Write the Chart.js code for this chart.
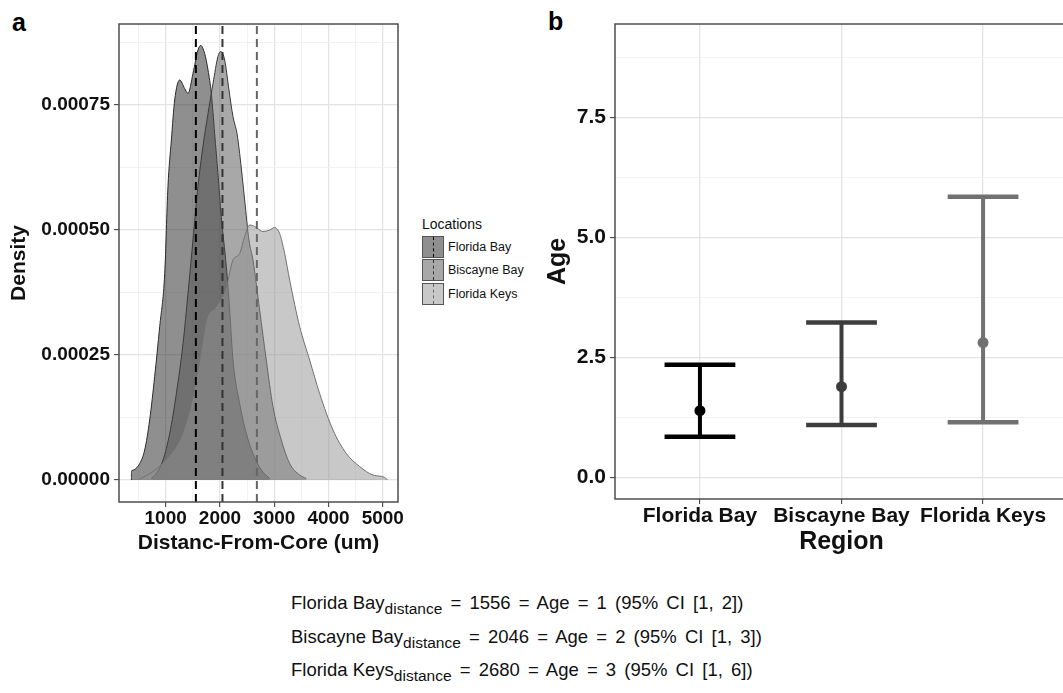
<!DOCTYPE html>
<html>
<head>
<meta charset="utf-8">
<script src="https://cdn.jsdelivr.net/npm/chart.js@4"></script>
<style>
  html, body { margin: 0; padding: 0; background: #fff; overflow: hidden; }
  body { width: 1063px; height: 693px; position: relative; font-family: "Liberation Sans", Arial, sans-serif; }
  canvas { position: absolute; }
  #densityChart { left: 0; top: 0; }
  #ageChart { left: 540px; top: 0; }
  .panel-tag { position: absolute; font-weight: bold; font-size: 25px; line-height: 1; }
  #legend { position: absolute; left: 422px; top: 216px; font-size: 12.5px; color: #111; }
  #legend .title { font-size: 14px; margin-bottom: 3px; }
  #legend .row { display: flex; align-items: center; height: 23.5px; }
  #legend .key { width: 20px; height: 20px; border: 1px solid #555; position: relative; margin-right: 4px; background: #fff; }
  #legend .key .fill { position: absolute; inset: 0; }
  #legend .key .dash { position: absolute; left: 10px; top: 0; bottom: 0; width: 0; border-left: 1.5px dashed; }
  #notes { position: absolute; left: 291px; top: 586px; font-size: 18.5px; line-height: 33.5px; color: #111; word-spacing: 3px; }
  #notes .name { word-spacing: 0; }
  #notes sub { font-size: 15.5px; vertical-align: -5px; line-height: 0; word-spacing: 0; }
</style>
</head>
<body>
<div class="panel-tag" style="left:12px; top:10px;">a</div>
<div class="panel-tag" style="left:548px; top:9px;">b</div>
<canvas id="densityChart" width="410" height="560"></canvas>
<canvas id="ageChart" width="540" height="560"></canvas>
<div id="legend"></div>
<div id="notes"></div>
<script>
// panel a: density of distance from core, per location
const locations = ['Florida Bay', 'Biscayne Bay', 'Florida Keys'];
const meanDistance = [1556, 2046, 2680];

const floridaBayX = [368, 370, 380, 521, 613, 705, 797, 890, 982, 1042, 1105, 1166, 1258, 1350, 1411, 1503, 1595, 1645, 1718, 1780, 1841, 1902, 1963, 2024, 2117, 2179, 2240, 2363, 2486, 2608, 2762, 2915];
const floridaBayDensity = [0, 0.000017, 0.000019, 0.000033, 0.00006, 0.00012, 0.000207, 0.000307, 0.000413, 0.000587, 0.00068, 0.00076, 0.0008, 0.000783, 0.000773, 0.000813, 0.00086, 0.000869, 0.000853, 0.00082, 0.000773, 0.000693, 0.000613, 0.000527, 0.000427, 0.00034, 0.00024, 0.000153, 0.000093, 0.000053, 0.00002, 0.000003];

const biscayneBayX = [736, 829, 951, 1074, 1197, 1320, 1411, 1503, 1595, 1687, 1780, 1872, 1963, 2013, 2087, 2166, 2240, 2314, 2363, 2455, 2534, 2608, 2731, 2853, 2976, 3130, 3284, 3468, 3591];
const biscayneBayDensity = [0.000003, 0.000013, 0.00004, 0.000093, 0.000173, 0.000273, 0.000373, 0.00048, 0.000587, 0.000667, 0.000733, 0.000793, 0.000847, 0.000857, 0.00084, 0.00078, 0.000727, 0.000693, 0.000653, 0.00056, 0.00048, 0.00044, 0.00034, 0.00024, 0.000147, 0.00008, 0.000033, 0.00001, 0.000003];

const floridaKeysX = [521, 766, 1000, 1258, 1442, 1626, 1749, 1933, 2117, 2240, 2363, 2455, 2547, 2639, 2792, 2915, 3007, 3099, 3192, 3284, 3468, 3652, 3836, 4082, 4328, 4573, 4819, 5064, 5080];
const floridaKeysDensity = [0.000002, 0.0000167, 0.00004, 0.00008, 0.00014, 0.00024, 0.00032, 0.000347, 0.000387, 0.00044, 0.000453, 0.000487, 0.00051, 0.000507, 0.000497, 0.0005, 0.000505, 0.000493, 0.000453, 0.0004, 0.000307, 0.00024, 0.000173, 0.0001, 0.000053, 0.000027, 0.00001, 0.000003, 0];

const distanceTicks = [1000, 2000, 3000, 4000, 5000];
const distanceMinorTicks = [500, 1500, 2500, 3500, 4500];
const densityTicks = [0, 0.00025, 0.0005, 0.00075];
const densityMinorTicks = [0.000125, 0.000375, 0.000625, 0.000875];

// panel b: estimated age with 95% CI
const regions = ['Florida Bay', 'Biscayne Bay', 'Florida Keys'];
const ageMean = [1.39, 1.89, 2.81];
const ageLower = [0.85, 1.09, 1.15];
const ageUpper = [2.35, 3.23, 5.85];
const ageTicks = [0, 2.5, 5, 7.5];
const ageMinorTicks = [1.25, 3.75, 6.25, 8.75];

// summary lines under the plots
const noteDistance = ['1556', '2046', '2680'];
const noteAge = ['1', '2', '3'];
const noteCI = ['[1, 2]', '[1, 3]', '[1, 6]'];

const FONT = '"Liberation Sans", Arial, sans-serif';
Chart.defaults.font.family = FONT;
Chart.defaults.color = '#111';

const fillColors = ['rgba(31,31,31,0.5)', 'rgba(81,81,81,0.5)', 'rgba(145,145,145,0.5)'];
const outlineColors = ['#2a2a2a', '#3a3a3a', '#707070'];
const vlineColors = ['#000000', '#333333', '#666666'];
const regionColors = ['#000000', '#3d3d3d', '#717171'];

const panelBorder = {
    id: 'panelBorder',
    afterDatasetsDraw(chart) {
        const { ctx, chartArea: a } = chart;
        ctx.save();
        ctx.strokeStyle = '#4d4d4d';
        ctx.lineWidth = 1.5;
        ctx.strokeRect(a.left, a.top, a.right - a.left, a.bottom - a.top);
        ctx.restore();
    }
};

function withMinor(major, minor) {
    return major.concat(minor).sort((p, q) => p - q).map(v => ({ value: v }));
}

function gridStyle(major) {
    return {
        color: ctx => major.includes(ctx.tick.value) ? '#e4e4e4' : '#efefef',
        lineWidth: ctx => major.includes(ctx.tick.value) ? 1.3 : 0.8,
        tickColor: ctx => major.includes(ctx.tick.value) ? '#333' : 'rgba(0,0,0,0)',
        tickLength: 5,
        tickWidth: 1
    };
}

// ---------- panel a ----------
const densitySeries = [
    { x: floridaBayX, y: floridaBayDensity },
    { x: biscayneBayX, y: biscayneBayDensity },
    { x: floridaKeysX, y: floridaKeysDensity }
];
const yMinDensity = -0.000044;
const yMaxDensity = 0.000912;

const densityDatasets = densitySeries.map((s, i) => ({
    type: 'line',
    label: locations[i],
    data: s.x.map((x, k) => ({ x, y: s.y[k] })),
    backgroundColor: fillColors[i],
    borderColor: outlineColors[i],
    borderWidth: 1,
    fill: 'origin',
    pointRadius: 0,
    cubicInterpolationMode: 'monotone',
    order: 10 - i
}));

const meanLineDatasets = meanDistance.map((d, i) => ({
    type: 'line',
    label: locations[i] + ' mean',
    data: [{ x: d, y: yMinDensity }, { x: d, y: yMaxDensity }],
    borderColor: vlineColors[i],
    borderWidth: 2,
    borderDash: [8, 5],
    pointRadius: 0,
    fill: false,
    order: 0
}));

new Chart(document.getElementById('densityChart'), {
    type: 'line',
    data: { datasets: densityDatasets.concat(meanLineDatasets) },
    options: {
        responsive: false,
        animation: false,
        devicePixelRatio: 1,
        layout: { padding: { top: 24, right: 12, left: 0, bottom: 0 } },
        plugins: { legend: { display: false }, tooltip: { enabled: false } },
        scales: {
            x: {
                type: 'linear',
                min: 140,
                max: 5280,
                afterBuildTicks: s => { s.ticks = withMinor(distanceTicks, distanceMinorTicks); },
                afterFit: s => { s.height = 58; },
                ticks: {
                    autoSkip: false, maxRotation: 0, padding: 0,
                    font: { size: 19, weight: 'bold' },
                    callback: v => distanceTicks.includes(v) ? String(v) : ''
                },
                grid: gridStyle(distanceTicks),
                border: { display: false },
                title: { display: true, text: 'Distanc-From-Core (um)', font: { size: 21, weight: 'bold' }, padding: { bottom: 4, top: 0 } }
            },
            y: {
                type: 'linear',
                min: yMinDensity,
                max: yMaxDensity,
                afterBuildTicks: s => { s.ticks = withMinor(densityTicks, densityMinorTicks); },
                afterFit: s => { s.width = 119; },
                ticks: {
                    autoSkip: false, padding: 4,
                    font: { size: 19, weight: 'bold' },
                    callback: v => densityTicks.includes(v) ? v.toFixed(5) : ''
                },
                grid: gridStyle(densityTicks),
                border: { display: false },
                title: { display: true, text: 'Density', font: { size: 21, weight: 'bold' }, padding: { top: 7, bottom: 0 } }
            }
        }
    },
    plugins: [panelBorder]
});

// legend for panel a
const legend = document.getElementById('legend');
legend.innerHTML = '<div class="title">Locations</div>' + locations.map((loc, i) =>
    `<div class="row"><div class="key"><div class="fill" style="background:${fillColors[i]}"></div>` +
    `<div class="dash" style="border-color:${vlineColors[i]}"></div></div><span>${loc}</span></div>`
).join('');

// ---------- panel b ----------
const capHalf = 0.25;
const ageDatasets = [];
regions.forEach((r, i) => {
    const x = i + 1;
    const base = { type: 'line', borderColor: regionColors[i], pointRadius: 0, fill: false };
    ageDatasets.push({ ...base, label: r + ' CI', borderWidth: 4, data: [{ x, y: ageLower[i] }, { x, y: ageUpper[i] }] });
    ageDatasets.push({ ...base, label: r + ' upper', borderWidth: 4.5, data: [{ x: x - capHalf, y: ageUpper[i] }, { x: x + capHalf, y: ageUpper[i] }] });
    ageDatasets.push({ ...base, label: r + ' lower', borderWidth: 4.5, data: [{ x: x - capHalf, y: ageLower[i] }, { x: x + capHalf, y: ageLower[i] }] });
});
ageDatasets.push({
    type: 'scatter',
    label: 'Age',
    data: ageMean.map((y, i) => ({ x: i + 1, y })),
    backgroundColor: regionColors,
    borderWidth: 0,
    pointRadius: 5.5
});

new Chart(document.getElementById('ageChart'), {
    type: 'scatter',
    data: { datasets: ageDatasets },
    options: {
        responsive: false,
        animation: false,
        devicePixelRatio: 1,
        layout: { padding: { top: 24, right: 12, left: 0, bottom: 0 } },
        plugins: { legend: { display: false }, tooltip: { enabled: false } },
        scales: {
            x: {
                type: 'linear',
                min: 0.4,
                max: 3.6,
                afterBuildTicks: s => { s.ticks = regions.map((r, i) => ({ value: i + 1 })); },
                afterFit: s => { s.height = 61; },
                ticks: {
                    autoSkip: false, maxRotation: 0, padding: 0,
                    font: { size: 21, weight: 'bold' },
                    callback: v => regions[v - 1]
                },
                grid: gridStyle([1, 2, 3]),
                border: { display: false },
                title: { display: true, text: 'Region', font: { size: 25, weight: 'bold' }, padding: { bottom: 3, top: 0 } }
            },
            y: {
                type: 'linear',
                min: -0.45,
                max: 9.45,
                afterBuildTicks: s => { s.ticks = withMinor(ageTicks, ageMinorTicks); },
                afterFit: s => { s.width = 75; },
                ticks: {
                    autoSkip: false, padding: 4,
                    font: { size: 21, weight: 'bold' },
                    callback: v => ageTicks.includes(v) ? v.toFixed(1) : ''
                },
                grid: gridStyle(ageTicks),
                border: { display: false },
                title: { display: true, text: 'Age', font: { size: 25, weight: 'bold' }, padding: { top: 3, bottom: 0 } }
            }
        }
    },
    plugins: [panelBorder]
});

// notes
document.getElementById('notes').innerHTML = locations.map((loc, i) =>
    `<div><span class="name">${loc}</span><sub>distance</sub> = ${noteDistance[i]} = Age = ${noteAge[i]} (95% CI ${noteCI[i]})</div>`
).join('');
</script>
</body>
</html>
